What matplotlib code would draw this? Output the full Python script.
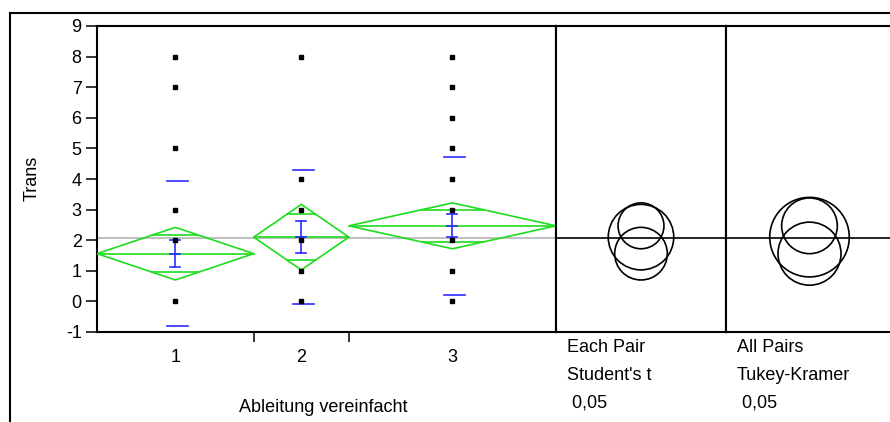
import numpy as np
import matplotlib
matplotlib.use('Agg')
import matplotlib.pyplot as plt
from matplotlib.patches import Circle, Polygon
from matplotlib.lines import Line2D

plt.rcParams['font.family'] = ['Liberation Sans', 'DejaVu Sans']
plt.rcParams['axes.unicode_minus'] = False

# group summary for "Trans" by "Ableitung vereinfacht"
group_labels = ['1', '2', '3']
group_n = [28, 17, 37]
group_mean = [1.56, 2.10, 2.47]
group_sd = [2.38, 2.19, 2.26]
group_se = [0.45, 0.52, 0.37]
ci_student = [0.86, 1.07, 0.75]
ci_tukey = [1.03, 1.30, 0.91]
grand_mean = 2.06

points_1 = [0, 2, 3, 5, 7, 8]
points_2 = [0, 1, 2, 3, 4, 8]
points_3 = [0, 1, 2, 3, 4, 5, 6, 7, 8]
group_points = [points_1, points_2, points_3]

W, H = 890, 422
GREEN = '#1edc1e'
BLUE = '#2b2bff'
LW_AX = 1.5
FS = 13


def fig_rect(x0, y0, x1, y1):
    # pixel box (top-left origin) -> figure fraction
    return [x0 / W, 1 - y1 / H, (x1 - x0) / W, (y1 - y0) / H]


fig = plt.figure(figsize=(W / 100, H / 100), dpi=100)

ax = fig.add_axes(fig_rect(97, 26, 556, 332))
ax2 = fig.add_axes(fig_rect(556, 26, 726, 332))
ax3 = fig.add_axes(fig_rect(726, 26, 893, 332))

total = sum(group_n)
bounds = np.concatenate([[0], np.cumsum(group_n)])
centers = (bounds[:-1] + bounds[1:]) / 2
upx = total / (556 - 97)  # x data units per pixel

ax.set_xlim(0, total)
ax.set_ylim(-1, 9)

# grand mean
ax.axhline(grand_mean, color='#b4b4b4', lw=1.2, zorder=1)

for i in range(3):
    x0, x1, cx = bounds[i], bounds[i + 1], centers[i]
    m, ci = group_mean[i], ci_student[i]
    half = (x1 - x0) / 2
    # means diamond
    ax.add_patch(Polygon([(x0, m), (cx, m + ci), (x1, m), (cx, m - ci)],
                         closed=True, fill=False, ec=GREEN, lw=1.2, zorder=3))
    ax.plot([x0, x1], [m, m], color=GREEN, lw=1.2, zorder=3)
    # overlap marks
    d = ci / np.sqrt(2)
    hw = half * (1 - d / ci)
    for yy in (m + d, m - d):
        ax.plot([cx - hw, cx + hw], [yy, yy], color=GREEN, lw=1.2, zorder=3)
    # std dev lines
    for yy in (m + group_sd[i], m - group_sd[i]):
        ax.plot([cx - 8 * upx, cx + 13 * upx], [yy, yy], color=BLUE, lw=1.2, zorder=4)
    # std error bar
    se = group_se[i]
    ax.plot([cx, cx], [m - se, m + se], color=BLUE, lw=1.2, zorder=4)
    for yy in (m - se, m, m + se):
        ax.plot([cx - 5 * upx, cx + 5 * upx], [yy, yy], color=BLUE, lw=1.2, zorder=4)
    # observations
    pts = group_points[i]
    ax.plot([cx] * len(pts), pts, ls='none', marker='s', ms=3.3,
            mfc='black', mec='black', zorder=5)

ax.set_yticks(range(-1, 10))
ax.tick_params(axis='y', direction='out', length=8, width=1.1, pad=3,
               labelsize=FS)
ax.set_xticks(centers)
ax.set_xticklabels(group_labels)
ax.set_xticks(bounds[1:-1], minor=True)
ax.tick_params(axis='x', which='major', length=0, pad=12, labelsize=FS)
ax.tick_params(axis='x', which='minor', direction='out', length=7, width=1.1)

# comparison circles panels
ypx = 10 / (332 - 26)
for a, radii, px0, px1 in ((ax2, ci_student, 556, 726), (ax3, ci_tukey, 726, 893)):
    wdata = (px1 - px0) * ypx
    a.set_xlim(-wdata / 2, wdata / 2)
    a.set_ylim(-1, 9)
    a.axhline(grand_mean, color='black', lw=1.2)
    for m, r in zip(group_mean, radii):
        a.add_patch(Circle((0, m), r, fill=False, ec='black', lw=1.2))
    a.set_xticks([])
    a.set_yticks([])

for a in (ax, ax2, ax3):
    for s in a.spines.values():
        s.set_linewidth(LW_AX)

fig.text(32 / W, 1 - 178 / H, 'Trans', rotation=90, ha='center', va='center',
         fontsize=FS)
fig.text(323 / W, 1 - 408 / H, 'Ableitung vereinfacht', ha='center', va='center',
         fontsize=FS)
for x, lines in ((567, ['Each Pair', "Student's t", ' 0,05']),
                 (737, ['All Pairs', 'Tukey-Kramer', ' 0,05'])):
    for y, s in zip((348, 376, 403), lines):
        fig.text(x / W, 1 - y / H, s, ha='left', va='center', fontsize=FS)

# outer frame
fig.add_artist(Line2D([10 / W, 10 / W], [0, 1 - 13 / H], color='black', lw=LW_AX))
fig.add_artist(Line2D([10 / W, 1], [1 - 13 / H, 1 - 13 / H], color='black', lw=LW_AX))

fig.savefig('out.png', dpi=100)
